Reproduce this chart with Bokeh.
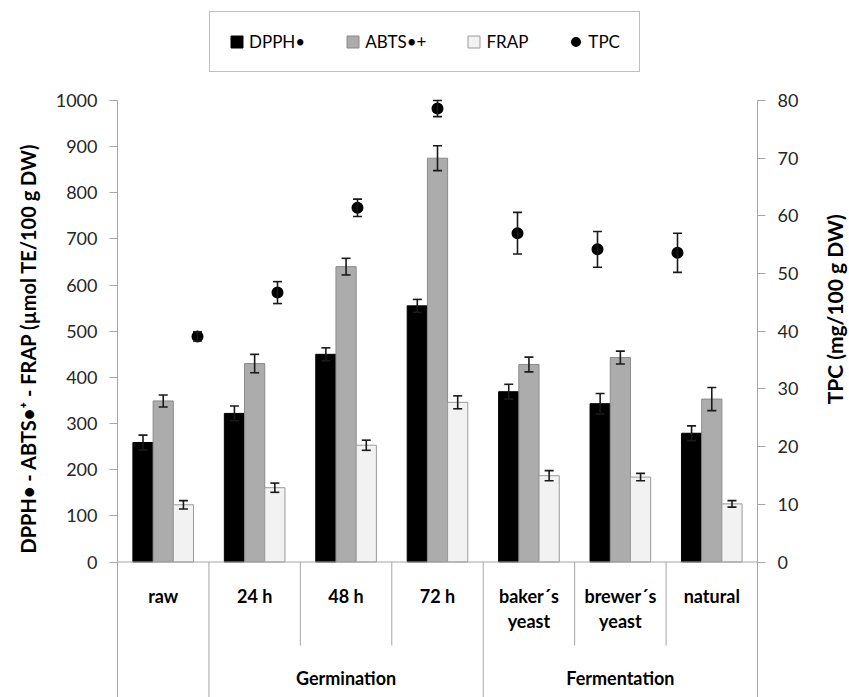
import math
from bokeh.plotting import figure
from bokeh.models import (ColumnDataSource, Range1d, LinearAxis, FixedTicker, Title, Label,
                          Whisker, TeeHead, Span, Legend, LegendItem)
from bokeh.transform import dodge
from bokeh.core.properties import value
from bokeh.embed import file_html
from bokeh.resources import INLINE

# ---------------- data ----------------
categories = ["raw", "24 h", "48 h", "72 h", "baker´s yeast", "brewer´s yeast", "natural"]
category_labels = ["raw", "24 h", "48 h", "72 h", "baker´s\nyeast", "brewer´s\nyeast", "natural"]
groups = ["", "Germination", "Germination", "Germination",
          "Fermentation", "Fermentation", "Fermentation"]
group_names = ["Germination", "Fermentation"]

dpph = [259, 322, 450, 555, 369, 343, 279]
dpph_err = [16, 16, 14, 14, 16, 22, 16]
abts = [349, 430, 640, 875, 428, 443, 353]
abts_err = [13, 20, 18, 27, 16, 14, 25]
frap = [124, 161, 253, 346, 187, 184, 126]
frap_err = [9, 10, 11, 14, 11, 8, 7]
tpc = [39.1, 46.7, 61.4, 78.6, 57.0, 54.2, 53.6]
tpc_err = [0.8, 1.9, 1.5, 1.4, 3.6, 3.1, 3.4]

left_ticks = [0, 100, 200, 300, 400, 500, 600, 700, 800, 900, 1000]
right_ticks = [0, 10, 20, 30, 40, 50, 60, 70, 80]

legend_labels = ["DPPH•", "ABTS•+", "FRAP", "TPC"]
left_title = "DPPH• - ABTS•⁺ - FRAP (µmol TE/100 g DW)"
right_title = "TPC (mg/100 g DW)"

# ---------------- layout / styling ----------------
FONT = "Lato"
AXIS_GREY = "#a6a6a6"
BAR_W = 0.221
W, H = 849, 697
FL, FR = 117, 757             # frame left / right (px)
PX_PER_UNIT = 461.5 / 1000    # left scale: 0 -> y 561.5, 1000 -> y 100
Y_TOP = 561.5 / PX_PER_UNIT
Y_BOTTOM = -(H - 561.5) / PX_PER_UNIT
Y2_TOP = Y_TOP * 80 / 1000
Y2_BOTTOM = Y_BOTTOM * 80 / 1000
n = len(categories)

xc = [i + 0.5 for i in range(n)]

src = ColumnDataSource(data=dict(
    xc=xc, label=category_labels,
    dpph=dpph, dpph_lo=[v - e for v, e in zip(dpph, dpph_err)], dpph_hi=[v + e for v, e in zip(dpph, dpph_err)],
    abts=abts, abts_lo=[v - e for v, e in zip(abts, abts_err)], abts_hi=[v + e for v, e in zip(abts, abts_err)],
    frap=frap, frap_lo=[v - e for v, e in zip(frap, frap_err)], frap_hi=[v + e for v, e in zip(frap, frap_err)],
))
tsrc = ColumnDataSource(data=dict(
    x=[i + 1 for i in range(len(tpc))], tpc=tpc,
    lo=[v - e for v, e in zip(tpc, tpc_err)], hi=[v + e for v, e in zip(tpc, tpc_err)],
))

p = figure(width=W, height=H, output_backend="svg", toolbar_location=None,
           x_range=Range1d(0, n), y_range=Range1d(Y_BOTTOM, Y_TOP),
           x_axis_location=None, y_axis_location=None,
           min_border_left=FL, min_border_right=W - FR, min_border_top=0, min_border_bottom=0)
p.extra_x_ranges = {"tpc": Range1d(0, len(tpc) + 1)}
p.extra_y_ranges = {"tpc": Range1d(Y2_BOTTOM, Y2_TOP)}
p.grid.visible = False
p.outline_line_color = None
p.background_fill_color = "white"
p.border_fill_color = "white"

def style_axis(ax):
    ax.axis_line_color = AXIS_GREY
    ax.major_tick_line_color = AXIS_GREY
    ax.major_tick_out = 8
    ax.major_tick_in = 0
    ax.minor_tick_line_color = None
    ax.major_label_text_font = FONT
    ax.major_label_text_font_size = "18px"
    ax.major_label_text_color = "#262626"
    ax.major_label_standoff = 12

yl = LinearAxis(ticker=FixedTicker(ticks=left_ticks), bounds=(Y_BOTTOM, 1000))
style_axis(yl)
p.add_layout(yl, "left")
p.add_layout(Title(text=left_title, align="left", offset=144, text_font=FONT,
                   text_font_size="20px", text_font_style="bold", text_color="black",
                   standoff=25), "left")

yr = LinearAxis(ticker=FixedTicker(ticks=right_ticks), bounds=(Y2_BOTTOM, 80), y_range_name="tpc")
style_axis(yr)
p.add_layout(yr, "right")
# right-hand title, reading bottom to top, placed in the TPC coordinate system
p.add_layout(Label(x=8.96, y=43.8, x_range_name="tpc", y_range_name="tpc", text=right_title,
                   angle=math.pi / 2, text_align="center", text_baseline="middle",
                   text_font=FONT, text_font_size="21px", text_font_style="bold",
                   text_color="black"), "right")

p.add_layout(Span(location=0, dimension="width", line_color=AXIS_GREY, line_width=1))

# category separators (left edge of each category after the first)
full = [groups[i] != groups[i - 1] for i in range(1, n)]
sep_src = ColumnDataSource(data=dict(
    xc=xc[1:], y0=[0] * (n - 1), y1=[Y_BOTTOM if f else -181 for f in full]))
p.segment(x0=dodge("xc", -0.5), x1=dodge("xc", -0.5),
          y0="y0", y1="y1", source=sep_src, line_color=AXIS_GREY, line_width=1)

# bars
r_dpph = p.vbar(x=dodge("xc", -BAR_W), top="dpph", width=BAR_W, source=src,
                fill_color="black", line_color="black", line_width=1)
r_abts = p.vbar(x=dodge("xc", 0), top="abts", width=BAR_W, source=src,
                fill_color="#acacac", line_color="#8a8a8a", line_width=1)
r_frap = p.vbar(x=dodge("xc", BAR_W), top="frap", width=BAR_W, source=src,
                fill_color="#f2f2f2", line_color="#9a9a9a", line_width=1)

def head():
    return TeeHead(size=9, line_width=1.6, line_color="#1a1a1a")

def whisk(off, lo, hi):
    w = Whisker(base=dodge("xc", off), lower=lo, upper=hi, source=src,
                line_width=1.6, line_color="#1a1a1a", upper_head=head(), lower_head=head(),
                level="overlay")
    p.add_layout(w)

whisk(-BAR_W, "dpph_lo", "dpph_hi")
whisk(0, "abts_lo", "abts_hi")
whisk(BAR_W, "frap_lo", "frap_hi")

tw = Whisker(base="x", lower="lo", upper="hi", source=tsrc, x_range_name="tpc", y_range_name="tpc",
             line_width=1.6, line_color="#1a1a1a", upper_head=head(), lower_head=head(),
             level="overlay")
p.add_layout(tw)
r_tpc = p.scatter(x="x", y="tpc", source=tsrc, x_range_name="tpc", y_range_name="tpc",
                  size=8, line_width=4, fill_color="black", line_color="black")

# category labels
p.text(x="xc", y=-48.8, text="label", source=src, text_font=value(FONT), text_font_size="18px",
       text_font_style="bold", text_align="center", text_baseline="top", text_color="black",
       text_line_height=1.16)
gx = []
for gn in group_names:
    members = [x for x, g in zip(xc, groups) if g == gn]
    gx.append(members[len(members) // 2])
gsrc = ColumnDataSource(data=dict(x=gx, text=group_names))
p.text(x="x", y=-252.4, text="text", source=gsrc, text_font=value(FONT), text_font_size="18px",
       text_font_style="bold", text_align="center", text_baseline="middle", text_color="black")

# legend (inside the frame, above the data area)
legend = Legend(items=[LegendItem(label=legend_labels[0], renderers=[r_dpph]),
                       LegendItem(label=legend_labels[1], renderers=[r_abts]),
                       LegendItem(label=legend_labels[2], renderers=[r_frap]),
                       LegendItem(label=legend_labels[3], renderers=[r_tpc])],
                orientation="horizontal", location=(209 - FL, H - 72),
                label_text_font=FONT, label_text_font_size="17px", label_text_color="black",
                glyph_width=15, glyph_height=15, label_height=14, label_standoff=5,
                spacing=40, padding=19,
                border_line_color="#808080", border_line_width=1,
                background_fill_color="white", background_fill_alpha=1.0)
p.add_layout(legend, "center")

open("out.html", "w").write(file_html(p, INLINE))
